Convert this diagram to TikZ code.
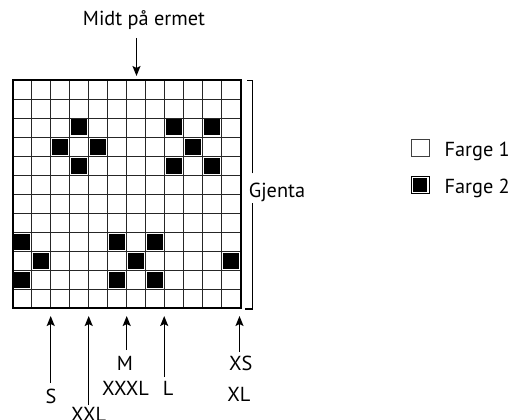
\documentclass[tikz,border=0pt]{standalone}
\usepackage{fontspec}
\setmainfont{PT Sans}
\usetikzlibrary{arrows.meta}
\begin{document}
\begin{tikzpicture}[x=1pt,y=-1pt,
  lbl/.style={font=\fontsize{20.3}{24}\selectfont, inner sep=0pt, anchor=base},
  arr/.style={line width=1.4pt, -{Stealth[length=10pt,width=8pt,inset=2pt]}},
  gline/.style={line width=0.9pt, draw=black!85},
  blk/.style={fill=black},
  brk/.style={line width=1.1pt, draw=black}]
\useasboundingbox (0,0) rectangle (512,420);
% grid inner lines
\foreach \k in {1,...,11}{
  \draw[gline] ({12.7+19*\k},80) -- ({12.7+19*\k},308);
  \draw[gline] (12.7,{80+19*\k}) -- (240.7,{80+19*\k});
}
% black cells row/col
\foreach \r/\c in {3/4,3/9,3/11,4/3,4/5,4/10,5/4,5/9,5/11,9/1,9/6,9/8,10/2,10/7,10/12,11/1,11/6,11/8}{
  \fill[blk] ({12.7+19*(\c-1)+1.5},{80+19*(\r-1)+1.5}) rectangle ({12.7+19*\c-1.5},{80+19*\r-1.5});
}
% border
\node[draw, line width=2.4pt, minimum width=228pt, minimum height=228pt, inner sep=0pt, outer sep=0pt] (grid) at (126.7,194) {};
% top label and arrow
\node[lbl] (top) at (144,25.7) {Midt på ermet};
\coordinate (ta) at (136.5,38);
\coordinate (tb) at (136.5,76);
\draw[arr] (ta) -- (tb);
% bracket
\coordinate (b1) at (247,80.7);
\coordinate (b2) at (252.7,80.7);
\coordinate (b3) at (252.7,173.3);
\coordinate (b4) at (252.7,203.3);
\coordinate (b5) at (252.7,309);
\coordinate (b6) at (245,309);
\draw[brk] (b3) -- (b2) -- (b1);
\draw[brk] (b4) -- (b5) -- (b6);
\node[lbl] (gj) at (277,197.3) {Gjenta};
% bottom arrows
\coordinate (sS) at (50.7,383); \coordinate (eS) at (50.7,316);
\coordinate (sXXL) at (88.7,405); \coordinate (eXXL) at (88.7,316);
\coordinate (sM) at (126.7,350); \coordinate (eM) at (126.7,316);
\coordinate (sL) at (164.2,377); \coordinate (eL) at (164.2,316);
\coordinate (sXS) at (239.5,352); \coordinate (eXS) at (239.5,316);
\foreach \n in {S,XXL,M,L,XS}{\draw[arr] (s\n) -- (e\n);}
\node[lbl] (lS) at (51,403) {S};
\node[lbl] (lXXL) at (88.7,421.5) {XXL};
\node[lbl] (lM) at (125,370) {M};
\node[lbl] (lXXXL) at (125.5,395) {XXXL};
\node[lbl] (lL) at (168,395.5) {L};
\node[lbl] (lXS) at (240.8,370) {XS};
\node[lbl] (lXL) at (238.8,401) {XL};
% legend
\node[draw=black!75, line width=0.9pt, minimum width=18pt, minimum height=17.5pt, inner sep=0pt] (c1) at (420,148) {};
\node[draw=black, line width=0.9pt, minimum width=18pt, minimum height=17.5pt, inner sep=0pt] (c2) at (420,185) {};
\fill[blk] (412.6,177.9) rectangle (427.4,192.1);
\node[lbl, anchor=base east] (f1) at (510,156.7) {Farge 1};
\node[lbl, anchor=base east] (f2) at (510,193.3) {Farge 2};
\end{tikzpicture}
\end{document}
